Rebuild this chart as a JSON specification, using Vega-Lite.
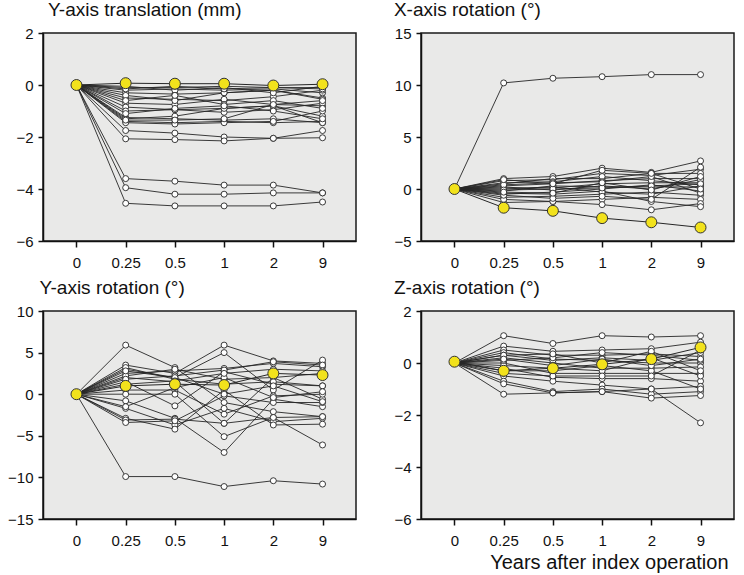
{
  "$schema": "https://vega.github.io/schema/vega-lite/v6.json",
  "padding": {"left": 6, "top": 0, "right": 0, "bottom": 0},
  "columns": 2,
  "spacing": {"row": 7, "column": 36},
  "datasets": {
    "yt": [
      {"id":"1","t":"0","v":0},{"id":"1","t":"0.25","v":-0.1},{"id":"1","t":"0.5","v":-0.1},{"id":"1","t":"1","v":-0.05},{"id":"1","t":"2","v":-0.1},{"id":"1","t":"9","v":-0.1},
      {"id":"2","t":"0","v":0},{"id":"2","t":"0.25","v":-0.2},{"id":"2","t":"0.5","v":-0.15},{"id":"2","t":"1","v":-0.2},{"id":"2","t":"2","v":-0.15},{"id":"2","t":"9","v":-0.3},
      {"id":"3","t":"0","v":0},{"id":"3","t":"0.25","v":-0.3},{"id":"3","t":"0.5","v":-0.35},{"id":"3","t":"1","v":-0.3},{"id":"3","t":"2","v":-0.2},{"id":"3","t":"9","v":-0.5},
      {"id":"4","t":"0","v":0},{"id":"4","t":"0.25","v":-0.5},{"id":"4","t":"0.5","v":-0.55},{"id":"4","t":"1","v":-0.6},{"id":"4","t":"2","v":-0.45},{"id":"4","t":"9","v":-0.2},
      {"id":"5","t":"0","v":0},{"id":"5","t":"0.25","v":-0.7},{"id":"5","t":"0.5","v":-0.75},{"id":"5","t":"1","v":-0.55},{"id":"5","t":"2","v":-0.75},{"id":"5","t":"9","v":-0.8},
      {"id":"6","t":"0","v":0},{"id":"6","t":"0.25","v":-0.85},{"id":"6","t":"0.5","v":-0.95},{"id":"6","t":"1","v":-0.9},{"id":"6","t":"2","v":-0.8},{"id":"6","t":"9","v":-1.2},
      {"id":"7","t":"0","v":0},{"id":"7","t":"0.25","v":-1.0},{"id":"7","t":"0.5","v":-0.95},{"id":"7","t":"1","v":-1.05},{"id":"7","t":"2","v":-0.95},{"id":"7","t":"9","v":-0.7},
      {"id":"8","t":"0","v":0},{"id":"8","t":"0.25","v":-1.25},{"id":"8","t":"0.5","v":-1.3},{"id":"8","t":"1","v":-1.35},{"id":"8","t":"2","v":-1.3},{"id":"8","t":"9","v":-1.45},
      {"id":"9","t":"0","v":0},{"id":"9","t":"0.25","v":-1.4},{"id":"9","t":"0.5","v":-1.45},{"id":"9","t":"1","v":-1.4},{"id":"9","t":"2","v":-1.45},{"id":"9","t":"9","v":-1.4},
      {"id":"10","t":"0","v":0},{"id":"10","t":"0.25","v":-1.45},{"id":"10","t":"0.5","v":-1.5},{"id":"10","t":"1","v":-1.45},{"id":"10","t":"2","v":-1.4},{"id":"10","t":"9","v":-1.0},
      {"id":"11","t":"0","v":0},{"id":"11","t":"0.25","v":-1.3},{"id":"11","t":"0.5","v":-1.2},{"id":"11","t":"1","v":-0.9},{"id":"11","t":"2","v":-0.8},{"id":"11","t":"9","v":-1.45},
      {"id":"12","t":"0","v":0},{"id":"12","t":"0.25","v":-0.4},{"id":"12","t":"0.5","v":-0.6},{"id":"12","t":"1","v":-0.3},{"id":"12","t":"2","v":-0.2},{"id":"12","t":"9","v":-0.55},
      {"id":"13","t":"0","v":0},{"id":"13","t":"0.25","v":-1.75},{"id":"13","t":"0.5","v":-1.85},{"id":"13","t":"1","v":-2.0},{"id":"13","t":"2","v":-2.05},{"id":"13","t":"9","v":-1.75},
      {"id":"14","t":"0","v":0},{"id":"14","t":"0.25","v":-2.07},{"id":"14","t":"0.5","v":-2.1},{"id":"14","t":"1","v":-2.15},{"id":"14","t":"2","v":-2.05},{"id":"14","t":"9","v":-2.03},
      {"id":"15","t":"0","v":0},{"id":"15","t":"0.25","v":-3.6},{"id":"15","t":"0.5","v":-3.7},{"id":"15","t":"1","v":-3.85},{"id":"15","t":"2","v":-3.85},{"id":"15","t":"9","v":-4.15},
      {"id":"16","t":"0","v":0},{"id":"16","t":"0.25","v":-3.95},{"id":"16","t":"0.5","v":-4.2},{"id":"16","t":"1","v":-4.2},{"id":"16","t":"2","v":-4.15},{"id":"16","t":"9","v":-4.15},
      {"id":"17","t":"0","v":0},{"id":"17","t":"0.25","v":-4.55},{"id":"17","t":"0.5","v":-4.65},{"id":"17","t":"1","v":-4.65},{"id":"17","t":"2","v":-4.65},{"id":"17","t":"9","v":-4.5},
      {"id":"18","t":"0","v":0},{"id":"18","t":"0.25","v":-0.05},{"id":"18","t":"0.5","v":-0.2},{"id":"18","t":"1","v":-0.1},{"id":"18","t":"2","v":-0.3},{"id":"18","t":"9","v":-0.05},
      {"id":"19","t":"0","v":0},{"id":"19","t":"0.25","v":-0.6},{"id":"19","t":"0.5","v":-0.4},{"id":"19","t":"1","v":-0.75},{"id":"19","t":"2","v":-0.6},{"id":"19","t":"9","v":-0.9},
      {"id":"20","t":"0","v":0},{"id":"20","t":"0.25","v":-1.1},{"id":"20","t":"0.5","v":-0.9},{"id":"20","t":"1","v":-0.8},{"id":"20","t":"2","v":-1.0},{"id":"20","t":"9","v":-1.3},
      {"id":"21","t":"0","v":0},{"id":"21","t":"0.25","v":-0.15},{"id":"21","t":"0.5","v":-0.05},{"id":"21","t":"1","v":-0.15},{"id":"21","t":"2","v":-0.1},{"id":"21","t":"9","v":-0.15},
      {"id":"22","t":"0","v":0},{"id":"22","t":"0.25","v":-1.35},{"id":"22","t":"0.5","v":-1.35},{"id":"22","t":"1","v":-1.3},{"id":"22","t":"2","v":-0.75},{"id":"22","t":"9","v":-0.6},
      {"id":"Y","t":"0","v":0},{"id":"Y","t":"0.25","v":0.07},{"id":"Y","t":"0.5","v":0.05},{"id":"Y","t":"1","v":0.05},{"id":"Y","t":"2","v":-0.02},{"id":"Y","t":"9","v":0.03}
    ],
    "xr": [
      {"id":"1","t":"0","v":0},{"id":"1","t":"0.25","v":10.2},{"id":"1","t":"0.5","v":10.65},{"id":"1","t":"1","v":10.8},{"id":"1","t":"2","v":11.0},{"id":"1","t":"9","v":11.0},
      {"id":"2","t":"0","v":0},{"id":"2","t":"0.25","v":1.0},{"id":"2","t":"0.5","v":1.2},{"id":"2","t":"1","v":2.0},{"id":"2","t":"2","v":1.6},{"id":"2","t":"9","v":2.7},
      {"id":"3","t":"0","v":0},{"id":"3","t":"0.25","v":0.8},{"id":"3","t":"0.5","v":0.9},{"id":"3","t":"1","v":1.5},{"id":"3","t":"2","v":1.3},{"id":"3","t":"9","v":1.9},
      {"id":"4","t":"0","v":0},{"id":"4","t":"0.25","v":0.5},{"id":"4","t":"0.5","v":1.0},{"id":"4","t":"1","v":1.0},{"id":"4","t":"2","v":1.5},{"id":"4","t":"9","v":1.5},
      {"id":"5","t":"0","v":0},{"id":"5","t":"0.25","v":0.3},{"id":"5","t":"0.5","v":0.5},{"id":"5","t":"1","v":0.8},{"id":"5","t":"2","v":1.0},{"id":"5","t":"9","v":1.0},
      {"id":"6","t":"0","v":0},{"id":"6","t":"0.25","v":0.1},{"id":"6","t":"0.5","v":0.1},{"id":"6","t":"1","v":0.5},{"id":"6","t":"2","v":0.6},{"id":"6","t":"9","v":0.6},
      {"id":"7","t":"0","v":0},{"id":"7","t":"0.25","v":-0.2},{"id":"7","t":"0.5","v":0.3},{"id":"7","t":"1","v":0.2},{"id":"7","t":"2","v":0.2},{"id":"7","t":"9","v":0.2},
      {"id":"8","t":"0","v":0},{"id":"8","t":"0.25","v":-0.5},{"id":"8","t":"0.5","v":-0.3},{"id":"8","t":"1","v":0.0},{"id":"8","t":"2","v":0.4},{"id":"8","t":"9","v":-0.2},
      {"id":"9","t":"0","v":0},{"id":"9","t":"0.25","v":-0.8},{"id":"9","t":"0.5","v":-0.7},{"id":"9","t":"1","v":-0.5},{"id":"9","t":"2","v":-0.3},{"id":"9","t":"9","v":-0.6},
      {"id":"10","t":"0","v":0},{"id":"10","t":"0.25","v":-1.3},{"id":"10","t":"0.5","v":-1.2},{"id":"10","t":"1","v":-1.0},{"id":"10","t":"2","v":-0.8},{"id":"10","t":"9","v":-1.0},
      {"id":"11","t":"0","v":0},{"id":"11","t":"0.25","v":-1.0},{"id":"11","t":"0.5","v":-1.2},{"id":"11","t":"1","v":-1.5},{"id":"11","t":"2","v":-2.0},{"id":"11","t":"9","v":-1.4},
      {"id":"12","t":"0","v":0},{"id":"12","t":"0.25","v":0.6},{"id":"12","t":"0.5","v":0.7},{"id":"12","t":"1","v":1.2},{"id":"12","t":"2","v":0.8},{"id":"12","t":"9","v":0.4},
      {"id":"13","t":"0","v":0},{"id":"13","t":"0.25","v":-0.4},{"id":"13","t":"0.5","v":-0.5},{"id":"13","t":"1","v":-0.2},{"id":"13","t":"2","v":-1.2},{"id":"13","t":"9","v":-1.7},
      {"id":"14","t":"0","v":0},{"id":"14","t":"0.25","v":0.2},{"id":"14","t":"0.5","v":-0.1},{"id":"14","t":"1","v":0.3},{"id":"14","t":"2","v":0.0},{"id":"14","t":"9","v":0.9},
      {"id":"15","t":"0","v":0},{"id":"15","t":"0.25","v":0.0},{"id":"15","t":"0.5","v":0.2},{"id":"15","t":"1","v":-0.3},{"id":"15","t":"2","v":-0.5},{"id":"15","t":"9","v":0.3},
      {"id":"16","t":"0","v":0},{"id":"16","t":"0.25","v":-0.6},{"id":"16","t":"0.5","v":-0.9},{"id":"16","t":"1","v":-0.7},{"id":"16","t":"2","v":-1.0},{"id":"16","t":"9","v":2.1},
      {"id":"17","t":"0","v":0},{"id":"17","t":"0.25","v":0.4},{"id":"17","t":"0.5","v":0.6},{"id":"17","t":"1","v":0.7},{"id":"17","t":"2","v":1.2},{"id":"17","t":"9","v":-0.4},
      {"id":"18","t":"0","v":0},{"id":"18","t":"0.25","v":-0.1},{"id":"18","t":"0.5","v":0.0},{"id":"18","t":"1","v":0.1},{"id":"18","t":"2","v":0.3},{"id":"18","t":"9","v":0.5},
      {"id":"19","t":"0","v":0},{"id":"19","t":"0.25","v":0.9},{"id":"19","t":"0.5","v":0.5},{"id":"19","t":"1","v":1.8},{"id":"19","t":"2","v":1.5},{"id":"19","t":"9","v":0.0},
      {"id":"20","t":"0","v":0},{"id":"20","t":"0.25","v":-0.3},{"id":"20","t":"0.5","v":-0.4},{"id":"20","t":"1","v":0.6},{"id":"20","t":"2","v":-0.1},{"id":"20","t":"9","v":1.2},
      {"id":"Y","t":"0","v":0},{"id":"Y","t":"0.25","v":-1.8},{"id":"Y","t":"0.5","v":-2.1},{"id":"Y","t":"1","v":-2.8},{"id":"Y","t":"2","v":-3.2},{"id":"Y","t":"9","v":-3.7}
    ],
    "yr": [
      {"id":"1","t":"0","v":0},{"id":"1","t":"0.25","v":5.9},{"id":"1","t":"0.5","v":3.2},{"id":"1","t":"1","v":-1.0},{"id":"1","t":"2","v":-2.1},{"id":"1","t":"9","v":-2.7},
      {"id":"2","t":"0","v":0},{"id":"2","t":"0.25","v":3.5},{"id":"2","t":"0.5","v":2.5},{"id":"2","t":"1","v":5.9},{"id":"2","t":"2","v":4.0},{"id":"2","t":"9","v":3.7},
      {"id":"3","t":"0","v":0},{"id":"3","t":"0.25","v":3.0},{"id":"3","t":"0.5","v":2.0},{"id":"3","t":"1","v":5.0},{"id":"3","t":"2","v":0.5},{"id":"3","t":"9","v":4.1},
      {"id":"4","t":"0","v":0},{"id":"4","t":"0.25","v":2.5},{"id":"4","t":"0.5","v":2.8},{"id":"4","t":"1","v":3.1},{"id":"4","t":"2","v":3.7},{"id":"4","t":"9","v":3.3},
      {"id":"5","t":"0","v":0},{"id":"5","t":"0.25","v":2.0},{"id":"5","t":"0.5","v":1.5},{"id":"5","t":"1","v":-3.5},{"id":"5","t":"2","v":2.0},{"id":"5","t":"9","v":-0.6},
      {"id":"6","t":"0","v":0},{"id":"6","t":"0.25","v":1.5},{"id":"6","t":"0.5","v":-1.4},{"id":"6","t":"1","v":2.7},{"id":"6","t":"2","v":1.2},{"id":"6","t":"9","v":1.0},
      {"id":"7","t":"0","v":0},{"id":"7","t":"0.25","v":0.5},{"id":"7","t":"0.5","v":0.5},{"id":"7","t":"1","v":-2.4},{"id":"7","t":"2","v":-0.2},{"id":"7","t":"9","v":0.0},
      {"id":"8","t":"0","v":0},{"id":"8","t":"0.25","v":0.0},{"id":"8","t":"0.5","v":0.0},{"id":"8","t":"1","v":-5.1},{"id":"8","t":"2","v":-2.8},{"id":"8","t":"9","v":-6.1},
      {"id":"9","t":"0","v":0},{"id":"9","t":"0.25","v":-0.8},{"id":"9","t":"0.5","v":-2.9},{"id":"9","t":"1","v":-7.0},{"id":"9","t":"2","v":-0.6},{"id":"9","t":"9","v":-1.5},
      {"id":"10","t":"0","v":0},{"id":"10","t":"0.25","v":-1.7},{"id":"10","t":"0.5","v":-3.7},{"id":"10","t":"1","v":-1.7},{"id":"10","t":"2","v":-3.3},{"id":"10","t":"9","v":-2.9},
      {"id":"11","t":"0","v":0},{"id":"11","t":"0.25","v":-2.9},{"id":"11","t":"0.5","v":-4.2},{"id":"11","t":"1","v":0.5},{"id":"11","t":"2","v":-3.7},{"id":"11","t":"9","v":-3.6},
      {"id":"12","t":"0","v":0},{"id":"12","t":"0.25","v":-3.1},{"id":"12","t":"0.5","v":-3.0},{"id":"12","t":"1","v":-3.5},{"id":"12","t":"2","v":-2.8},{"id":"12","t":"9","v":-2.7},
      {"id":"13","t":"0","v":0},{"id":"13","t":"0.25","v":-3.4},{"id":"13","t":"0.5","v":-3.2},{"id":"13","t":"1","v":-0.2},{"id":"13","t":"2","v":-1.0},{"id":"13","t":"9","v":-1.0},
      {"id":"14","t":"0","v":0},{"id":"14","t":"0.25","v":-9.9},{"id":"14","t":"0.5","v":-9.9},{"id":"14","t":"1","v":-11.1},{"id":"14","t":"2","v":-10.4},{"id":"14","t":"9","v":-10.8},
      {"id":"15","t":"0","v":0},{"id":"15","t":"0.25","v":2.2},{"id":"15","t":"0.5","v":3.0},{"id":"15","t":"1","v":1.8},{"id":"15","t":"2","v":2.0},{"id":"15","t":"9","v":2.5},
      {"id":"16","t":"0","v":0},{"id":"16","t":"0.25","v":1.8},{"id":"16","t":"0.5","v":2.2},{"id":"16","t":"1","v":2.9},{"id":"16","t":"2","v":3.9},{"id":"16","t":"9","v":3.5},
      {"id":"17","t":"0","v":0},{"id":"17","t":"0.25","v":3.2},{"id":"17","t":"0.5","v":1.8},{"id":"17","t":"1","v":1.2},{"id":"17","t":"2","v":1.5},{"id":"17","t":"9","v":1.0},
      {"id":"18","t":"0","v":0},{"id":"18","t":"0.25","v":-1.5},{"id":"18","t":"0.5","v":0.8},{"id":"18","t":"1","v":2.0},{"id":"18","t":"2","v":-0.4},{"id":"18","t":"9","v":0.3},
      {"id":"19","t":"0","v":0},{"id":"19","t":"0.25","v":2.8},{"id":"19","t":"0.5","v":2.0},{"id":"19","t":"1","v":0.0},{"id":"19","t":"2","v":1.0},{"id":"19","t":"9","v":-0.9},
      {"id":"20","t":"0","v":0},{"id":"20","t":"0.25","v":1.2},{"id":"20","t":"0.5","v":1.6},{"id":"20","t":"1","v":2.5},{"id":"20","t":"2","v":3.0},{"id":"20","t":"9","v":2.8},
      {"id":"Y","t":"0","v":0},{"id":"Y","t":"0.25","v":1.0},{"id":"Y","t":"0.5","v":1.2},{"id":"Y","t":"1","v":1.1},{"id":"Y","t":"2","v":2.5},{"id":"Y","t":"9","v":2.3}
    ],
    "zr": [
      {"id":"1","t":"0","v":0},{"id":"1","t":"0.25","v":1.05},{"id":"1","t":"0.5","v":0.75},{"id":"1","t":"1","v":1.05},{"id":"1","t":"2","v":1.0},{"id":"1","t":"9","v":1.05},
      {"id":"2","t":"0","v":0},{"id":"2","t":"0.25","v":0.65},{"id":"2","t":"0.5","v":0.45},{"id":"2","t":"1","v":0.5},{"id":"2","t":"2","v":0.55},{"id":"2","t":"9","v":0.8},
      {"id":"3","t":"0","v":0},{"id":"3","t":"0.25","v":0.5},{"id":"3","t":"0.5","v":0.3},{"id":"3","t":"1","v":0.3},{"id":"3","t":"2","v":0.35},{"id":"3","t":"9","v":0.25},
      {"id":"4","t":"0","v":0},{"id":"4","t":"0.25","v":0.4},{"id":"4","t":"0.5","v":0.15},{"id":"4","t":"1","v":0.1},{"id":"4","t":"2","v":0.0},{"id":"4","t":"9","v":0.0},
      {"id":"5","t":"0","v":0},{"id":"5","t":"0.25","v":0.2},{"id":"5","t":"0.5","v":0.0},{"id":"5","t":"1","v":-0.2},{"id":"5","t":"2","v":-0.2},{"id":"5","t":"9","v":-0.15},
      {"id":"6","t":"0","v":0},{"id":"6","t":"0.25","v":0.0},{"id":"6","t":"0.5","v":-0.4},{"id":"6","t":"1","v":-0.4},{"id":"6","t":"2","v":-0.4},{"id":"6","t":"9","v":-0.4},
      {"id":"7","t":"0","v":0},{"id":"7","t":"0.25","v":-0.2},{"id":"7","t":"0.5","v":-0.55},{"id":"7","t":"1","v":-0.6},{"id":"7","t":"2","v":-0.6},{"id":"7","t":"9","v":-0.7},
      {"id":"8","t":"0","v":0},{"id":"8","t":"0.25","v":-0.5},{"id":"8","t":"0.5","v":-0.7},{"id":"8","t":"1","v":-0.85},{"id":"8","t":"2","v":-1.0},{"id":"8","t":"9","v":-0.9},
      {"id":"9","t":"0","v":0},{"id":"9","t":"0.25","v":-0.7},{"id":"9","t":"0.5","v":-1.1},{"id":"9","t":"1","v":-1.0},{"id":"9","t":"2","v":-1.2},{"id":"9","t":"9","v":-1.1},
      {"id":"10","t":"0","v":0},{"id":"10","t":"0.25","v":-0.8},{"id":"10","t":"0.5","v":-1.15},{"id":"10","t":"1","v":-1.1},{"id":"10","t":"2","v":-1.35},{"id":"10","t":"9","v":-1.25},
      {"id":"11","t":"0","v":0},{"id":"11","t":"0.25","v":-1.2},{"id":"11","t":"0.5","v":-1.15},{"id":"11","t":"1","v":-1.1},{"id":"11","t":"2","v":-1.0},{"id":"11","t":"9","v":-2.3},
      {"id":"12","t":"0","v":0},{"id":"12","t":"0.25","v":0.3},{"id":"12","t":"0.5","v":0.1},{"id":"12","t":"1","v":0.2},{"id":"12","t":"2","v":0.1},{"id":"12","t":"9","v":0.4},
      {"id":"13","t":"0","v":0},{"id":"13","t":"0.25","v":-0.1},{"id":"13","t":"0.5","v":-0.2},{"id":"13","t":"1","v":-0.3},{"id":"13","t":"2","v":0.2},{"id":"13","t":"9","v":-0.5},
      {"id":"14","t":"0","v":0},{"id":"14","t":"0.25","v":0.1},{"id":"14","t":"0.5","v":0.2},{"id":"14","t":"1","v":0.4},{"id":"14","t":"2","v":0.3},{"id":"14","t":"9","v":0.1},
      {"id":"15","t":"0","v":0},{"id":"15","t":"0.25","v":-0.3},{"id":"15","t":"0.5","v":-0.3},{"id":"15","t":"1","v":-0.1},{"id":"15","t":"2","v":-0.3},{"id":"15","t":"9","v":-1.0},
      {"id":"16","t":"0","v":0},{"id":"16","t":"0.25","v":0.3},{"id":"16","t":"0.5","v":0.35},{"id":"16","t":"1","v":0.0},{"id":"16","t":"2","v":0.45},{"id":"16","t":"9","v":-0.3},
      {"id":"17","t":"0","v":0},{"id":"17","t":"0.25","v":-0.4},{"id":"17","t":"0.5","v":-0.5},{"id":"17","t":"1","v":-0.5},{"id":"17","t":"2","v":-0.5},{"id":"17","t":"9","v":0.5},
      {"id":"18","t":"0","v":0},{"id":"18","t":"0.25","v":0.15},{"id":"18","t":"0.5","v":-0.1},{"id":"18","t":"1","v":0.15},{"id":"18","t":"2","v":-0.1},{"id":"18","t":"9","v":0.15},
      {"id":"Y","t":"0","v":0.05},{"id":"Y","t":"0.25","v":-0.3},{"id":"Y","t":"0.5","v":-0.2},{"id":"Y","t":"1","v":-0.05},{"id":"Y","t":"2","v":0.15},{"id":"Y","t":"9","v":0.6}
    ]
  },
  "concat": [
    {
      "width": 313, "height": 208,
      "title": {"text": "Y-axis translation (mm)", "dx": 32},
      "data": {"name": "yt"},
      "encoding": {
        "x": {"field": "t", "type": "ordinal", "sort": ["0","0.25","0.5","1","2","9"], "scale": {"type": "point", "padding": 0.68}, "axis": {"title": null, "labelAngle": 0}},
        "y": {"field": "v", "type": "quantitative", "scale": {"domain": [-6, 2], "nice": false}, "axis": {"title": null, "values": [-6,-4,-2,0,2]}}
      },
      "layer": [
        {"transform": [{"filter": "datum.id !== 'Y'"}], "mark": {"type": "line", "color": "#262626", "strokeWidth": 0.9}, "encoding": {"detail": {"field": "id"}}},
        {"transform": [{"filter": "datum.id !== 'Y'"}], "mark": {"type": "point", "shape": "circle", "filled": true, "fill": "white", "stroke": "#262626", "strokeWidth": 0.9, "opacity": 1, "size": 36}, "encoding": {}},
        {"transform": [{"filter": "datum.id === 'Y'"}], "mark": {"type": "line", "color": "#262626", "strokeWidth": 1}, "encoding": {}},
        {"transform": [{"filter": "datum.id === 'Y'"}], "mark": {"type": "point", "shape": "circle", "filled": true, "fill": "#f2e21c", "stroke": "#333333", "strokeWidth": 1, "opacity": 1, "size": 120}, "encoding": {}}
      ]
    },
    {
      "width": 313, "height": 208,
      "title": {"text": "X-axis rotation (°)"},
      "data": {"name": "xr"},
      "encoding": {
        "x": {"field": "t", "type": "ordinal", "sort": ["0","0.25","0.5","1","2","9"], "scale": {"type": "point", "padding": 0.68}, "axis": {"title": null, "labelAngle": 0}},
        "y": {"field": "v", "type": "quantitative", "scale": {"domain": [-5, 15], "nice": false}, "axis": {"title": null, "values": [-5,0,5,10,15]}}
      },
      "layer": [
        {"transform": [{"filter": "datum.id !== 'Y'"}], "mark": {"type": "line", "color": "#262626", "strokeWidth": 0.9}, "encoding": {"detail": {"field": "id"}}},
        {"transform": [{"filter": "datum.id !== 'Y'"}], "mark": {"type": "point", "shape": "circle", "filled": true, "fill": "white", "stroke": "#262626", "strokeWidth": 0.9, "opacity": 1, "size": 36}, "encoding": {}},
        {"transform": [{"filter": "datum.id === 'Y'"}], "mark": {"type": "line", "color": "#262626", "strokeWidth": 1}, "encoding": {}},
        {"transform": [{"filter": "datum.id === 'Y'"}], "mark": {"type": "point", "shape": "circle", "filled": true, "fill": "#f2e21c", "stroke": "#333333", "strokeWidth": 1, "opacity": 1, "size": 120}, "encoding": {}}
      ]
    },
    {
      "width": 313, "height": 208,
      "title": {"text": "Y-axis rotation (°)", "dx": 32},
      "data": {"name": "yr"},
      "encoding": {
        "x": {"field": "t", "type": "ordinal", "sort": ["0","0.25","0.5","1","2","9"], "scale": {"type": "point", "padding": 0.68}, "axis": {"title": null, "labelAngle": 0}},
        "y": {"field": "v", "type": "quantitative", "scale": {"domain": [-15, 10], "nice": false}, "axis": {"title": null, "values": [-15,-10,-5,0,5,10]}}
      },
      "layer": [
        {"transform": [{"filter": "datum.id !== 'Y'"}], "mark": {"type": "line", "color": "#262626", "strokeWidth": 0.9}, "encoding": {"detail": {"field": "id"}}},
        {"transform": [{"filter": "datum.id !== 'Y'"}], "mark": {"type": "point", "shape": "circle", "filled": true, "fill": "white", "stroke": "#262626", "strokeWidth": 0.9, "opacity": 1, "size": 36}, "encoding": {}},
        {"transform": [{"filter": "datum.id === 'Y'"}], "mark": {"type": "line", "color": "#262626", "strokeWidth": 1}, "encoding": {}},
        {"transform": [{"filter": "datum.id === 'Y'"}], "mark": {"type": "point", "shape": "circle", "filled": true, "fill": "#f2e21c", "stroke": "#333333", "strokeWidth": 1, "opacity": 1, "size": 120}, "encoding": {}}
      ]
    },
    {
      "width": 313, "height": 208,
      "title": {"text": "Z-axis rotation (°)"},
      "data": {"name": "zr"},
      "encoding": {
        "x": {"field": "t", "type": "ordinal", "sort": ["0","0.25","0.5","1","2","9"], "scale": {"type": "point", "padding": 0.68}, "axis": {"title": "Years after index operation", "labelAngle": 0, "titleAnchor": "end", "titleAlign": "right", "titleX": 307, "titleFontSize": 20, "titleFontWeight": "normal", "titleColor": "#111111", "titlePadding": 4}},
        "y": {"field": "v", "type": "quantitative", "scale": {"domain": [-6, 2], "nice": false}, "axis": {"title": null, "values": [-6,-4,-2,0,2]}}
      },
      "layer": [
        {"transform": [{"filter": "datum.id !== 'Y'"}], "mark": {"type": "line", "color": "#262626", "strokeWidth": 0.9}, "encoding": {"detail": {"field": "id"}}},
        {"transform": [{"filter": "datum.id !== 'Y'"}], "mark": {"type": "point", "shape": "circle", "filled": true, "fill": "white", "stroke": "#262626", "strokeWidth": 0.9, "opacity": 1, "size": 36}, "encoding": {}},
        {"transform": [{"filter": "datum.id === 'Y'"}], "mark": {"type": "line", "color": "#262626", "strokeWidth": 1}, "encoding": {}},
        {"transform": [{"filter": "datum.id === 'Y'"}], "mark": {"type": "point", "shape": "circle", "filled": true, "fill": "#f2e21c", "stroke": "#333333", "strokeWidth": 1, "opacity": 1, "size": 120}, "encoding": {}}
      ]
    }
  ],
  "config": {
    "font": "Liberation Sans",
    "background": "white",
    "view": {"fill": "#e9e9e8", "stroke": "#1a1a1a", "strokeWidth": 1.5},
    "axis": {"labelFont": "Liberation Sans", "labelFontSize": 15, "labelColor": "#111111", "domainColor": "#111111", "domainWidth": 1.5, "tickColor": "#111111", "tickWidth": 1.5, "grid": false, "titleFont": "Liberation Sans"},
    "axisX": {"tickSize": 6, "labelPadding": 8},
    "axisY": {"tickSize": 5, "labelPadding": 5},
    "title": {"font": "Liberation Sans", "fontSize": 19, "fontWeight": "normal", "anchor": "start", "frame": "bounds", "color": "#111111", "baseline": "alphabetic", "offset": 6}
  }
}
